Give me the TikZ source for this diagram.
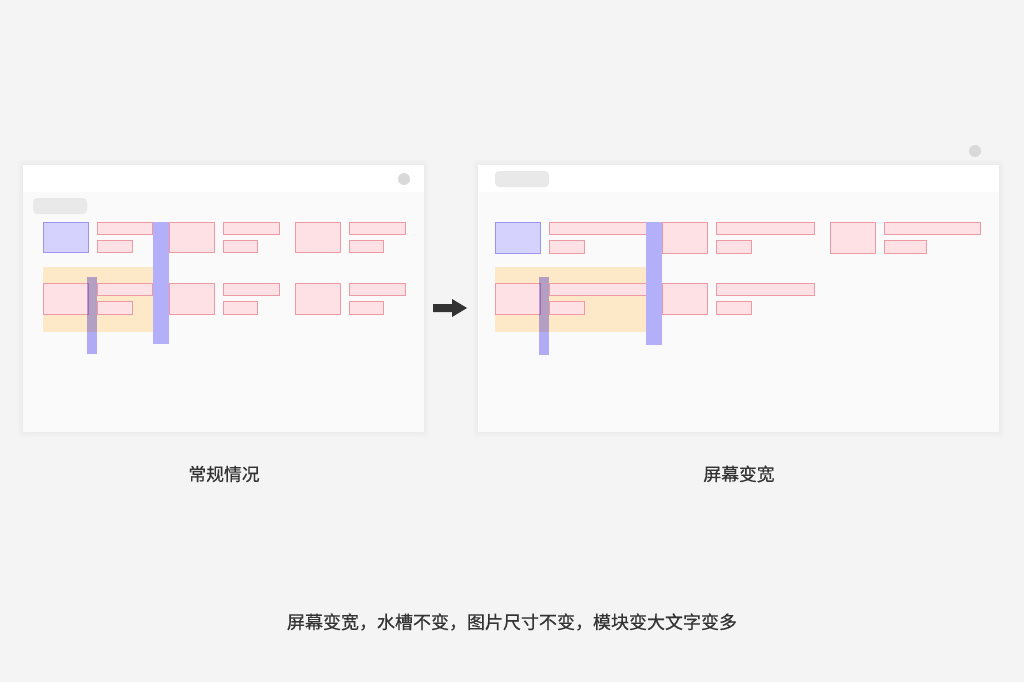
\documentclass[tikz,border=0pt]{standalone}
\usepackage{fontspec}
\newfontfamily\cjk[FakeBold=0.5]{Noto Sans CJK SC}
\definecolor{bg}{HTML}{F4F4F4}
\definecolor{winbody}{HTML}{FAFAFA}
\definecolor{pill}{HTML}{E9E9E9}
\definecolor{dot}{HTML}{D9D9D9}
\definecolor{pinkf}{HTML}{FEE1E4}
\definecolor{pinkd}{HTML}{EE9AA5}
\definecolor{bluef}{HTML}{D5D3FD}
\definecolor{blued}{HTML}{9C94EE}
\definecolor{gut}{HTML}{B4AFF9}
\definecolor{orangef}{HTML}{FDE8C8}
\definecolor{txt}{HTML}{333333}
\tikzset{
  pinkbox/.style={fill=pinkf,draw=pinkd,line width=0.9pt},
  bluebox/.style={fill=bluef,draw=blued,line width=0.9pt},
  gutter/.style={fill=gut},
  gutterthin/.style={fill=gut,blend mode=multiply},
  highlight/.style={fill=orangef},
  label/.style={font=\cjk\fontsize{17.8}{20}\selectfont,text=txt,inner sep=0pt},
  shadowrect/.style={fill=black,fill opacity=0.01,rounded corners=4pt},
}
\begin{document}
\begin{tikzpicture}[x=1pt,y=-1pt]
\fill[bg] (0,0) rectangle (1024,682);
\useasboundingbox (0,0) rectangle (1024,682);
% ---------- left window ----------
\foreach \d in {1,3,5}{\fill[shadowrect] (23-\d,165-\d) rectangle (424+\d,432+\d);}
\fill[winbody] (23,165) rectangle (424,432);
\fill[white] (23,165) rectangle (424,192);
\fill[dot] (404,179) circle (6);
\fill[pill,rounded corners=4pt] (33,198) rectangle (87,214);
% row 1
\draw[bluebox] (43,222) rectangle (88,252);
\draw[pinkbox] (97,222) rectangle (152,234);
\draw[pinkbox] (97,240) rectangle (132,252);
\draw[pinkbox] (169,222) rectangle (214,252);
\draw[pinkbox] (223,222) rectangle (279,234);
\draw[pinkbox] (223,240) rectangle (257,252);
\draw[pinkbox] (295,222) rectangle (340,252);
\draw[pinkbox] (349,222) rectangle (405,234);
\draw[pinkbox] (349,240) rectangle (383,252);
% row 2
\fill[highlight] (43,267) rectangle (153,332);
\draw[pinkbox] (43,283) rectangle (88,314);
\draw[pinkbox] (97,283) rectangle (152,295);
\draw[pinkbox] (97,301) rectangle (132,314);
\draw[pinkbox] (169,283) rectangle (214,314);
\draw[pinkbox] (223,283) rectangle (279,295);
\draw[pinkbox] (223,301) rectangle (257,314);
\draw[pinkbox] (295,283) rectangle (340,314);
\draw[pinkbox] (349,283) rectangle (405,295);
\draw[pinkbox] (349,301) rectangle (383,314);
% gutters
\fill[gutter] (153,222) rectangle (169,344);
\fill[gutterthin] (87,277) rectangle (97,354);
% ---------- arrow ----------
\fill[txt] (433,304) -- (452,304) -- (452,299) -- (467,308) -- (452,317) -- (452,312) -- (433,312) -- cycle;
% ---------- right window ----------
\foreach \d in {1,3,5}{\fill[shadowrect] (478-\d,165-\d) rectangle (999+\d,432+\d);}
\fill[winbody] (478,165) rectangle (999,432);
\fill[white] (478,165) rectangle (999,192);
\fill[dot] (975,151) circle (6);
\fill[pill,rounded corners=4pt] (495,171) rectangle (549,187);
% row 1
\draw[bluebox] (495,222) rectangle (540,253);
\draw[pinkbox] (549,222) rectangle (646,234);
\draw[pinkbox] (549,240) rectangle (584,253);
\draw[pinkbox] (662,222) rectangle (707,253);
\draw[pinkbox] (716,222) rectangle (814,234);
\draw[pinkbox] (716,240) rectangle (751,253);
\draw[pinkbox] (830,222) rectangle (875,253);
\draw[pinkbox] (884,222) rectangle (980,234);
\draw[pinkbox] (884,240) rectangle (926,253);
% row 2
\fill[highlight] (495,267) rectangle (646,332);
\draw[pinkbox] (495,283) rectangle (540,314);
\draw[pinkbox] (549,283) rectangle (646,295);
\draw[pinkbox] (549,301) rectangle (584,314);
\draw[pinkbox] (662,283) rectangle (707,314);
\draw[pinkbox] (716,283) rectangle (814,295);
\draw[pinkbox] (716,301) rectangle (751,314);
% gutters
\fill[gutter] (646,222) rectangle (662,345);
\fill[gutterthin] (539,277) rectangle (549,355);
% ---------- labels ----------
\node[label] (lleft) at (224,474) {常规情况};
\node[label] (lright) at (739,474) {屏幕变宽};
\node[label,font=\cjk\fontsize{18}{22}\selectfont] (lbottom) at (512,622) {屏幕变宽，水槽不变，图片尺寸不变，模块变大文字变多};
\end{tikzpicture}
\end{document}
